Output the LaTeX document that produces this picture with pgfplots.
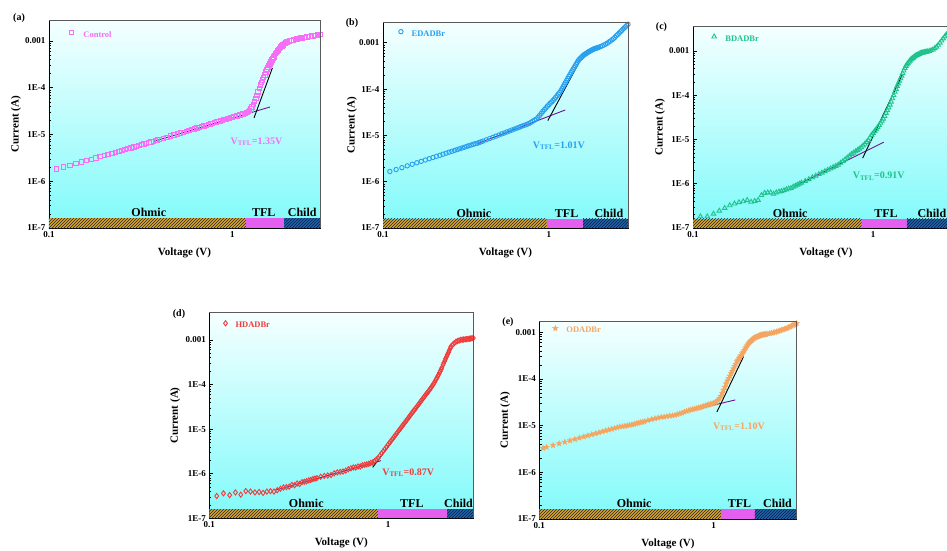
\documentclass[border=0pt]{standalone}
\usepackage{fontspec}
\setmainfont{Liberation Serif}
\usepackage{pgfplots}
\pgfplotsset{compat=1.18}
\usepackage{pgfplotstable}
\usetikzlibrary{patterns,plotmarks}

\definecolor{cA}{RGB}{245,110,245}
\definecolor{cB}{RGB}{40,160,240}
\definecolor{cC}{RGB}{30,195,140}
\definecolor{cD}{RGB}{240,60,60}
\definecolor{cE}{RGB}{245,165,95}
\definecolor{fitp}{RGB}{110,20,150}
\definecolor{ohm}{RGB}{215,165,50}
\definecolor{tfl}{RGB}{228,95,240}
\definecolor{chd}{RGB}{30,100,170}
\definecolor{chdl}{RGB}{10,30,70}
\definecolor{bgtop}{RGB}{245,255,255}
\definecolor{bgbot}{RGB}{128,250,250}
\definecolor{framegray}{RGB}{90,90,90}

\pgfdeclareplotmark{fstar}{%
 \pgfpathmoveto{\pgfpointpolar{90}{\pgfplotmarksize}}%
 \pgfpathlineto{\pgfpointpolar{126}{0.42\pgfplotmarksize}}%
 \pgfpathlineto{\pgfpointpolar{162}{\pgfplotmarksize}}%
 \pgfpathlineto{\pgfpointpolar{198}{0.42\pgfplotmarksize}}%
 \pgfpathlineto{\pgfpointpolar{234}{\pgfplotmarksize}}%
 \pgfpathlineto{\pgfpointpolar{270}{0.42\pgfplotmarksize}}%
 \pgfpathlineto{\pgfpointpolar{306}{\pgfplotmarksize}}%
 \pgfpathlineto{\pgfpointpolar{342}{0.42\pgfplotmarksize}}%
 \pgfpathlineto{\pgfpointpolar{18}{\pgfplotmarksize}}%
 \pgfpathlineto{\pgfpointpolar{54}{0.42\pgfplotmarksize}}%
 \pgfpathclose\pgfusepathqfillstroke}

\pgfplotstableread{
V I
0.11 1.82e-6
0.12 2.01e-6
0.13 2.20e-6
0.14 2.39e-6
0.15 2.58e-6
0.16 2.77e-6
0.17 2.96e-6
0.18 3.16e-6
0.19 3.37e-6
0.20 3.56e-6
0.21 3.77e-6
0.22 3.96e-6
0.23 4.17e-6
0.24 4.38e-6
0.25 4.58e-6
0.26 4.79e-6
0.27 4.99e-6
0.28 5.20e-6
0.29 5.41e-6
0.30 5.62e-6
0.31 5.82e-6
0.32 6.04e-6
0.33 6.27e-6
0.34 6.46e-6
0.35 6.68e-6
0.36 6.89e-6
0.37 7.11e-6
0.38 7.35e-6
0.39 7.57e-6
0.40 7.80e-6
0.42 8.28e-6
0.44 8.75e-6
0.46 9.25e-6
0.48 9.70e-6
0.50 1.02e-5
0.52 1.07e-5
0.54 1.12e-5
0.56 1.17e-5
0.58 1.22e-5
0.60 1.27e-5
0.62 1.32e-5
0.64 1.37e-5
0.66 1.43e-5
0.68 1.48e-5
0.70 1.53e-5
0.72 1.58e-5
0.74 1.63e-5
0.76 1.69e-5
0.78 1.74e-5
0.80 1.79e-5
0.82 1.85e-5
0.84 1.90e-5
0.86 1.95e-5
0.88 2.01e-5
0.90 2.07e-5
0.92 2.12e-5
0.94 2.18e-5
0.96 2.23e-5
0.98 2.29e-5
1.00 2.34e-5
1.02 2.40e-5
1.04 2.45e-5
1.06 2.51e-5
1.08 2.57e-5
1.10 2.62e-5
1.12 2.69e-5
1.14 2.74e-5
1.16 2.80e-5
1.18 2.86e-5
1.20 2.92e-5
1.22 3.07e-5
1.24 3.25e-5
1.26 3.50e-5
1.28 3.91e-5
1.30 4.36e-5
1.32 5.04e-5
1.34 5.83e-5
1.36 6.92e-5
1.38 8.15e-5
1.40 9.64e-5
1.42 1.14e-4
1.44 1.30e-4
1.46 1.47e-4
1.48 1.66e-4
1.50 1.89e-4
1.52 2.16e-4
1.54 2.45e-4
1.56 2.69e-4
1.58 2.98e-4
1.60 3.24e-4
1.62 3.58e-4
1.64 3.90e-4
1.66 4.24e-4
1.68 4.60e-4
1.70 4.94e-4
1.72 5.36e-4
1.74 5.74e-4
1.76 6.15e-4
1.78 6.49e-4
1.80 6.89e-4
1.82 7.21e-4
1.84 7.53e-4
1.86 7.88e-4
1.88 8.18e-4
1.90 8.55e-4
1.92 8.79e-4
1.94 9.04e-4
1.96 9.21e-4
1.98 9.46e-4
2.00 9.64e-4
2.05 1.01e-3
2.10 1.04e-3
2.15 1.06e-3
2.20 1.09e-3
2.25 1.11e-3
2.30 1.13e-3
2.35 1.15e-3
2.40 1.16e-3
2.45 1.18e-3
2.50 1.20e-3
2.55 1.22e-3
2.60 1.24e-3
2.65 1.25e-3
2.70 1.27e-3
2.75 1.29e-3
2.80 1.31e-3
2.85 1.33e-3
2.90 1.34e-3
2.95 1.36e-3
3.00 1.38e-3
}\tA

\pgfplotstableread{
V I
0.11 1.66e-6
0.12 1.83e-6
0.13 2.01e-6
0.14 2.20e-6
0.15 2.38e-6
0.16 2.57e-6
0.17 2.75e-6
0.18 2.94e-6
0.19 3.14e-6
0.20 3.33e-6
0.21 3.53e-6
0.22 3.72e-6
0.23 3.93e-6
0.24 4.13e-6
0.25 4.34e-6
0.26 4.53e-6
0.27 4.73e-6
0.28 4.94e-6
0.29 5.14e-6
0.30 5.36e-6
0.31 5.56e-6
0.32 5.78e-6
0.33 6.00e-6
0.34 6.19e-6
0.35 6.41e-6
0.36 6.62e-6
0.37 6.75e-6
0.38 7.01e-6
0.39 7.26e-6
0.40 7.52e-6
0.42 8.02e-6
0.44 8.55e-6
0.46 9.10e-6
0.48 9.64e-6
0.50 1.02e-5
0.52 1.08e-5
0.54 1.13e-5
0.56 1.19e-5
0.58 1.25e-5
0.60 1.31e-5
0.62 1.37e-5
0.64 1.43e-5
0.66 1.49e-5
0.68 1.56e-5
0.70 1.62e-5
0.72 1.68e-5
0.74 1.74e-5
0.76 1.81e-5
0.78 1.92e-5
0.80 2.03e-5
0.82 2.14e-5
0.84 2.25e-5
0.86 2.45e-5
0.88 2.70e-5
0.90 2.99e-5
0.92 3.30e-5
0.94 3.60e-5
0.96 3.93e-5
0.98 4.28e-5
1.00 4.61e-5
1.02 4.97e-5
1.04 5.31e-5
1.06 5.68e-5
1.08 6.12e-5
1.10 6.64e-5
1.12 7.19e-5
1.14 7.80e-5
1.16 8.36e-5
1.18 9.18e-5
1.20 1.02e-4
1.22 1.13e-4
1.24 1.25e-4
1.26 1.39e-4
1.28 1.54e-4
1.30 1.70e-4
1.32 1.88e-4
1.34 2.05e-4
1.36 2.26e-4
1.38 2.47e-4
1.40 2.69e-4
1.42 2.92e-4
1.44 3.17e-4
1.46 3.44e-4
1.48 3.74e-4
1.50 4.06e-4
1.52 4.34e-4
1.54 4.55e-4
1.56 4.73e-4
1.58 4.97e-4
1.60 5.16e-4
1.62 5.42e-4
1.64 5.57e-4
1.66 5.73e-4
1.68 5.89e-4
1.70 6.05e-4
1.72 6.25e-4
1.74 6.43e-4
1.76 6.58e-4
1.78 6.68e-4
1.80 6.84e-4
1.82 7.00e-4
1.84 7.15e-4
1.86 7.31e-4
1.88 7.40e-4
1.90 7.50e-4
1.92 7.59e-4
1.94 7.69e-4
1.96 7.78e-4
1.98 7.91e-4
2.00 8.00e-4
2.05 8.28e-4
2.10 8.61e-4
2.15 8.97e-4
2.20 9.33e-4
2.25 9.75e-4
2.30 1.04e-3
2.35 1.09e-3
2.40 1.16e-3
2.45 1.22e-3
2.50 1.31e-3
2.55 1.42e-3
2.60 1.51e-3
2.65 1.61e-3
2.70 1.73e-3
2.75 1.84e-3
2.80 1.97e-3
2.85 2.10e-3
2.90 2.22e-3
2.95 2.37e-3
3.00 2.51e-3
}\tB

\pgfplotstableread{
V I
0.11 1.82e-7
0.12 1.82e-7
0.13 2.09e-7
0.14 2.45e-7
0.15 2.82e-7
0.16 3.24e-7
0.17 3.55e-7
0.18 3.80e-7
0.19 3.98e-7
0.20 4.27e-7
0.21 3.89e-7
0.22 4.07e-7
0.23 4.27e-7
0.24 5.50e-7
0.25 6.17e-7
0.26 6.31e-7
0.27 6.31e-7
0.28 5.89e-7
0.29 6.31e-7
0.30 6.61e-7
0.31 6.76e-7
0.32 7.08e-7
0.33 7.41e-7
0.34 7.76e-7
0.35 7.94e-7
0.36 8.51e-7
0.37 8.91e-7
0.38 9.46e-7
0.39 9.95e-7
0.40 1.05e-6
0.42 1.15e-6
0.44 1.26e-6
0.46 1.39e-6
0.48 1.51e-6
0.50 1.64e-6
0.52 1.77e-6
0.54 1.91e-6
0.56 2.05e-6
0.58 2.20e-6
0.60 2.36e-6
0.62 2.51e-6
0.64 2.68e-6
0.66 2.95e-6
0.68 3.24e-6
0.70 3.55e-6
0.72 3.89e-6
0.74 4.27e-6
0.76 4.68e-6
0.78 5.01e-6
0.80 5.37e-6
0.82 5.75e-6
0.84 6.17e-6
0.86 6.61e-6
0.88 7.24e-6
0.90 7.94e-6
0.92 8.71e-6
0.94 9.55e-6
0.96 1.10e-5
0.98 1.26e-5
1.00 1.39e-5
1.02 1.55e-5
1.04 1.70e-5
1.06 1.88e-5
1.08 2.10e-5
1.10 2.36e-5
1.12 2.63e-5
1.14 2.94e-5
1.16 3.36e-5
1.18 3.95e-5
1.20 4.56e-5
1.22 5.27e-5
1.24 6.08e-5
1.26 7.11e-5
1.28 8.45e-5
1.30 1.00e-4
1.32 1.19e-4
1.34 1.38e-4
1.36 1.61e-4
1.38 1.84e-4
1.40 2.10e-4
1.42 2.40e-4
1.44 2.74e-4
1.46 3.13e-4
1.48 3.58e-4
1.50 4.08e-4
1.52 4.58e-4
1.54 4.93e-4
1.56 5.25e-4
1.58 5.65e-4
1.60 6.01e-4
1.62 6.40e-4
1.64 6.64e-4
1.66 6.90e-4
1.68 7.16e-4
1.70 7.43e-4
1.72 7.76e-4
1.74 7.96e-4
1.76 8.15e-4
1.78 8.32e-4
1.80 8.53e-4
1.82 8.73e-4
1.84 8.93e-4
1.86 9.03e-4
1.88 9.12e-4
1.90 9.21e-4
1.92 9.29e-4
1.94 9.40e-4
1.96 9.47e-4
1.98 9.57e-4
2.00 9.66e-4
2.05 9.98e-4
2.10 1.03e-3
2.15 1.07e-3
2.20 1.15e-3
2.25 1.24e-3
2.30 1.37e-3
2.35 1.53e-3
2.40 1.71e-3
2.45 1.91e-3
2.50 2.11e-3
2.55 2.34e-3
2.60 2.55e-3
2.65 2.69e-3
2.70 2.84e-3
2.75 3.01e-3
2.80 3.18e-3
2.85 3.36e-3
2.90 3.52e-3
2.95 3.72e-3
3.00 3.91e-3
}\tC

\pgfplotstableread{
V I
0.11 3.16e-7
0.12 3.63e-7
0.13 3.31e-7
0.14 3.80e-7
0.15 3.39e-7
0.16 4.07e-7
0.17 3.98e-7
0.18 3.80e-7
0.19 3.89e-7
0.20 3.72e-7
0.21 3.98e-7
0.22 4.07e-7
0.23 3.98e-7
0.24 4.27e-7
0.25 4.59e-7
0.26 4.90e-7
0.27 5.00e-7
0.28 5.13e-7
0.29 5.62e-7
0.30 5.50e-7
0.31 6.03e-7
0.32 5.89e-7
0.33 6.46e-7
0.34 6.61e-7
0.35 6.76e-7
0.36 7.08e-7
0.37 7.24e-7
0.38 7.59e-7
0.39 7.76e-7
0.40 7.94e-7
0.42 8.51e-7
0.44 8.91e-7
0.46 9.12e-7
0.48 9.33e-7
0.50 1.02e-6
0.52 1.07e-6
0.54 1.10e-6
0.56 1.12e-6
0.58 1.17e-6
0.60 1.26e-6
0.62 1.32e-6
0.64 1.38e-6
0.66 1.38e-6
0.68 1.45e-6
0.70 1.45e-6
0.72 1.55e-6
0.74 1.58e-6
0.76 1.62e-6
0.78 1.66e-6
0.80 1.74e-6
0.82 1.78e-6
0.84 1.91e-6
0.86 2.09e-6
0.88 2.24e-6
0.90 2.54e-6
0.92 2.86e-6
0.94 3.20e-6
0.96 3.56e-6
0.98 3.98e-6
1.00 4.45e-6
1.02 4.97e-6
1.04 5.47e-6
1.06 6.04e-6
1.08 6.65e-6
1.10 7.34e-6
1.12 8.09e-6
1.14 8.93e-6
1.16 9.73e-6
1.18 1.07e-5
1.20 1.17e-5
1.22 1.27e-5
1.24 1.39e-5
1.26 1.51e-5
1.28 1.64e-5
1.30 1.79e-5
1.32 1.95e-5
1.34 2.10e-5
1.36 2.29e-5
1.38 2.47e-5
1.40 2.65e-5
1.42 2.86e-5
1.44 3.08e-5
1.46 3.31e-5
1.48 3.56e-5
1.50 3.83e-5
1.52 4.12e-5
1.54 4.44e-5
1.56 4.72e-5
1.58 5.08e-5
1.60 5.40e-5
1.62 5.81e-5
1.64 6.18e-5
1.66 6.56e-5
1.68 6.98e-5
1.70 7.41e-5
1.72 7.98e-5
1.74 8.43e-5
1.76 9.10e-5
1.78 9.66e-5
1.80 1.04e-4
1.82 1.12e-4
1.84 1.21e-4
1.86 1.32e-4
1.88 1.42e-4
1.90 1.55e-4
1.92 1.67e-4
1.94 1.83e-4
1.96 1.97e-4
1.98 2.17e-4
2.00 2.37e-4
2.03 2.75e-4
2.05 3.03e-4
2.08 3.40e-4
2.10 3.79e-4
2.13 4.25e-4
2.15 4.71e-4
2.18 5.25e-4
2.20 5.83e-4
2.23 6.50e-4
2.25 7.14e-4
2.30 7.82e-4
2.35 8.47e-4
2.40 9.14e-4
2.45 9.42e-4
2.50 9.70e-4
2.55 1.00e-3
2.60 1.01e-3
2.65 1.02e-3
2.70 1.03e-3
2.75 1.04e-3
2.80 1.05e-3
2.85 1.06e-3
2.90 1.07e-3
2.95 1.09e-3
3.00 1.10e-3
}\tD

\pgfplotstableread{
V I
0.105 3.30e-6
0.11 3.46e-6
0.12 3.78e-6
0.13 4.12e-6
0.14 4.45e-6
0.15 4.78e-6
0.16 5.11e-6
0.17 5.45e-6
0.18 5.78e-6
0.19 6.11e-6
0.20 6.44e-6
0.21 6.78e-6
0.22 7.11e-6
0.23 7.46e-6
0.24 7.80e-6
0.25 8.13e-6
0.26 8.47e-6
0.27 8.81e-6
0.28 9.14e-6
0.29 9.48e-6
0.30 9.60e-6
0.31 9.85e-6
0.32 1.00e-5
0.33 1.03e-5
0.34 1.05e-5
0.35 1.08e-5
0.36 1.11e-5
0.37 1.14e-5
0.38 1.17e-5
0.39 1.19e-5
0.40 1.22e-5
0.42 1.30e-5
0.44 1.36e-5
0.46 1.42e-5
0.48 1.47e-5
0.50 1.52e-5
0.52 1.54e-5
0.54 1.58e-5
0.56 1.62e-5
0.58 1.64e-5
0.60 1.68e-5
0.62 1.74e-5
0.64 1.80e-5
0.66 1.88e-5
0.68 1.97e-5
0.70 2.04e-5
0.72 2.11e-5
0.74 2.19e-5
0.76 2.24e-5
0.78 2.29e-5
0.80 2.34e-5
0.82 2.40e-5
0.84 2.45e-5
0.86 2.54e-5
0.88 2.60e-5
0.90 2.69e-5
0.92 2.75e-5
0.94 2.82e-5
0.96 2.88e-5
0.98 2.95e-5
1.00 3.02e-5
1.02 3.09e-5
1.04 3.24e-5
1.06 3.49e-5
1.08 3.83e-5
1.10 4.29e-5
1.12 4.99e-5
1.14 5.81e-5
1.16 6.71e-5
1.18 7.91e-5
1.20 9.08e-5
1.22 1.03e-4
1.24 1.16e-4
1.26 1.31e-4
1.28 1.47e-4
1.30 1.66e-4
1.32 1.88e-4
1.34 2.08e-4
1.36 2.35e-4
1.38 2.54e-4
1.40 2.75e-4
1.42 2.97e-4
1.44 3.21e-4
1.46 3.48e-4
1.48 3.76e-4
1.50 4.08e-4
1.52 4.44e-4
1.54 4.83e-4
1.56 5.19e-4
1.58 5.65e-4
1.60 5.96e-4
1.62 6.27e-4
1.64 6.55e-4
1.66 6.82e-4
1.68 7.11e-4
1.70 7.43e-4
1.72 7.60e-4
1.74 7.76e-4
1.76 7.91e-4
1.78 8.04e-4
1.80 8.20e-4
1.82 8.36e-4
1.84 8.53e-4
1.86 8.65e-4
1.88 8.71e-4
1.90 8.79e-4
1.92 8.85e-4
1.94 8.91e-4
1.96 8.97e-4
1.98 9.06e-4
2.00 9.12e-4
2.05 9.29e-4
2.10 9.44e-4
2.15 9.62e-4
2.20 9.79e-4
2.25 1.00e-3
2.30 1.03e-3
2.35 1.05e-3
2.40 1.08e-3
2.45 1.11e-3
2.50 1.14e-3
2.55 1.17e-3
2.60 1.20e-3
2.65 1.23e-3
2.70 1.27e-3
2.75 1.32e-3
2.80 1.36e-3
2.85 1.41e-3
2.90 1.45e-3
2.95 1.50e-3
3.00 1.55e-3
}\tE

\tikzset{
  bandlbl/.style={anchor=base, yshift=1.5pt, inner sep=0pt, font=\fontsize{12}{13}\selectfont\bfseries},
  vtfl/.style={anchor=west, inner sep=0pt, font=\fontsize{10}{11}\selectfont\bfseries},
  plbl/.style={font=\fontsize{10}{11}\selectfont\bfseries},
  gframe/.style={framegray, line width=0.9pt},
}

\begin{document}
\begin{tikzpicture}

% ---------------- (a) ----------------
\begin{axis}[scale only axis, anchor=south west, at={(49pt,322pt)}, width=271pt, height=208pt,
  xmode=log, ymode=log, xmin=0.1, xmax=3, ymin=1e-7, ymax=2.81e-3,
  axis line style={line width=0.8pt, black},
  xtick={0.1,1}, xticklabels={\textbf{0.1},\textbf{1}},
  ytick={1e-7,1e-6,1e-5,1e-4,1e-3},
  yticklabels={\textbf{1E-7},\textbf{1E-6},\textbf{1E-5},\textbf{1E-4},\textbf{0.001}},
  ticklabel style={font=\fontsize{9}{10}\selectfont\bfseries},
  tick pos=left, major tick length=4pt, minor tick length=2.2pt,
  tick style={black, line width=0.6pt},
  axis background/.style={top color=bgtop, bottom color=bgbot},
  xlabel={Voltage (V)}, ylabel={Current (A)},
  label style={font=\fontsize{11}{12}\selectfont\bfseries},
  xlabel style={at={(axis description cs:0.5,0)}, anchor=center, yshift=-25pt},
  ylabel style={at={(axis description cs:0,0.5)}, anchor=center, yshift=33pt},
  legend style={at={(axis description cs:0,1)}, anchor=north west, draw=none, fill=none, inner sep=0pt,
    font=\fontsize{8.5}{9}\selectfont\bfseries, xshift=19.8pt, yshift=-9pt, text=cA,
    /tikz/every odd column/.append style={column sep=8pt}},
  legend image post style={yshift=2.6pt}]
\addplot[forget plot, draw=none, fill=ohm] coordinates {(0.1,1e-7) (1.19,1e-7) (1.19,1.6e-7) (0.1,1.6e-7)};
\addplot[forget plot, draw=none, pattern=north east lines, pattern color=black!85] coordinates {(0.1,1e-7) (1.19,1e-7) (1.19,1.6e-7) (0.1,1.6e-7)};
\addplot[forget plot, draw=none, fill=tfl] coordinates {(1.19,1e-7) (1.92,1e-7) (1.92,1.6e-7) (1.19,1.6e-7)};
\addplot[forget plot, draw=none, fill=chd] coordinates {(1.92,1e-7) (3,1e-7) (3,1.6e-7) (1.92,1.6e-7)};
\addplot[forget plot, draw=none, pattern=north east lines, pattern color=chdl] coordinates {(1.92,1e-7) (3,1e-7) (3,1.6e-7) (1.92,1.6e-7)};
\addplot[only marks, mark=square, mark size=2.2pt, color=cA, mark options={line width=0.9pt}] table {\tA};
\addlegendentry{Control}
\addplot[forget plot, color=fitp, line width=0.9pt] coordinates {(0.372,7.14e-6) (1.60,3.87e-5)};
\addplot[forget plot, color=black, line width=0.9pt] coordinates {(1.31,2.25e-5) (1.65,2.64e-4)};
\node[bandlbl] at (axis cs:0.35,1.6e-7) {Ohmic};
\node[bandlbl] at (axis cs:1.48,1.6e-7) {TFL};
\node[bandlbl] at (axis cs:2.4,1.6e-7) {Child};
\node[vtfl, text=cA] at (axis cs:0.975,7e-6) {V\textsubscript{TFL}=1.35V};
\end{axis}
\draw[gframe] (49pt,530pt) -- (320pt,530pt) -- (320pt,322pt);
\node[plbl] at (19pt,531.7pt) {(a)};

% ---------------- (b) ----------------
\begin{axis}[scale only axis, anchor=south west, at={(383pt,322pt)}, width=245pt, height=206pt,
  xmode=log, ymode=log, xmin=0.1, xmax=3, ymin=1e-7, ymax=2.81e-3,
  axis line style={line width=0.8pt, black},
  xtick={0.1,1}, xticklabels={\textbf{0.1},\textbf{1}},
  ytick={1e-7,1e-6,1e-5,1e-4,1e-3},
  yticklabels={\textbf{1E-7},\textbf{1E-6},\textbf{1E-5},\textbf{1E-4},\textbf{0.001}},
  ticklabel style={font=\fontsize{9}{10}\selectfont\bfseries},
  tick pos=left, major tick length=4pt, minor tick length=2.2pt,
  tick style={black, line width=0.6pt},
  axis background/.style={top color=bgtop, bottom color=bgbot},
  xlabel={Voltage (V)}, ylabel={Current (A)},
  label style={font=\fontsize{11}{12}\selectfont\bfseries},
  xlabel style={at={(axis description cs:0.5,0)}, anchor=center, yshift=-25pt},
  ylabel style={at={(axis description cs:0,0.5)}, anchor=center, yshift=31pt},
  legend style={at={(axis description cs:0,1)}, anchor=north west, draw=none, fill=none, inner sep=0pt,
    font=\fontsize{8.5}{9}\selectfont\bfseries, xshift=15.5pt, yshift=-6.5pt, text=cB,
    /tikz/every odd column/.append style={column sep=6.5pt}},
  legend image post style={yshift=2.6pt}]
\addplot[forget plot, draw=none, fill=ohm] coordinates {(0.1,1e-7) (0.97,1e-7) (0.97,1.6e-7) (0.1,1.6e-7)};
\addplot[forget plot, draw=none, pattern=north east lines, pattern color=black!85] coordinates {(0.1,1e-7) (0.97,1e-7) (0.97,1.6e-7) (0.1,1.6e-7)};
\addplot[forget plot, draw=none, fill=tfl] coordinates {(0.97,1e-7) (1.61,1e-7) (1.61,1.6e-7) (0.97,1.6e-7)};
\addplot[forget plot, draw=none, fill=chd] coordinates {(1.61,1e-7) (3,1e-7) (3,1.6e-7) (1.61,1.6e-7)};
\addplot[forget plot, draw=none, pattern=north east lines, pattern color=chdl] coordinates {(1.61,1e-7) (3,1e-7) (3,1.6e-7) (1.61,1.6e-7)};
\addplot[only marks, mark=o, mark size=2.2pt, color=cB, mark options={line width=0.9pt}] table {\tB};
\addlegendentry{EDADBr}
\addplot[forget plot, color=fitp, line width=0.9pt] coordinates {(0.367,6.56e-6) (1.256,3.54e-5)};
\addplot[forget plot, color=black, line width=0.9pt] coordinates {(0.986,2.09e-5) (1.51,3.59e-4)};
\node[bandlbl] at (axis cs:0.353,1.6e-7) {Ohmic};
\node[bandlbl] at (axis cs:1.28,1.6e-7) {TFL};
\node[bandlbl] at (axis cs:2.3,1.6e-7) {Child};
\node[vtfl, text=cB] at (axis cs:0.80,6.0e-6) {V\textsubscript{TFL}=1.01V};
\end{axis}
\draw[gframe] (383pt,528pt) -- (628pt,528pt) -- (628pt,322pt);
\node[plbl] at (352pt,526.7pt) {(b)};

% ---------------- (c) ----------------
\begin{axis}[scale only axis, anchor=south west, at={(693pt,322pt)}, width=266pt, height=202pt,
  xmode=log, ymode=log, xmin=0.1, xmax=3, ymin=1e-7, ymax=3.67e-3,
  axis line style={line width=0.8pt, black},
  xtick={0.1,1}, xticklabels={\textbf{0.1},\textbf{1}},
  ytick={1e-7,1e-6,1e-5,1e-4,1e-3},
  yticklabels={\textbf{1E-7},\textbf{1E-6},\textbf{1E-5},\textbf{1E-4},\textbf{0.001}},
  ticklabel style={font=\fontsize{9}{10}\selectfont\bfseries},
  tick pos=left, major tick length=4pt, minor tick length=2.2pt,
  tick style={black, line width=0.6pt},
  axis background/.style={top color=bgtop, bottom color=bgbot},
  xlabel={Voltage (V)}, ylabel={Current (A)},
  label style={font=\fontsize{11}{12}\selectfont\bfseries},
  xlabel style={at={(axis description cs:0.5,0)}, anchor=center, yshift=-25pt},
  ylabel style={at={(axis description cs:0,0.5)}, anchor=center, yshift=33pt},
  legend style={at={(axis description cs:0,1)}, anchor=north west, draw=none, fill=none, inner sep=0pt,
    font=\fontsize{8.5}{9}\selectfont\bfseries, xshift=18.7pt, yshift=-7.5pt, text=cC,
    /tikz/every odd column/.append style={column sep=7pt}},
  legend image post style={yshift=2.6pt}]
\addplot[forget plot, draw=none, fill=ohm] coordinates {(0.1,1e-7) (0.865,1e-7) (0.865,1.6e-7) (0.1,1.6e-7)};
\addplot[forget plot, draw=none, pattern=north east lines, pattern color=black!85] coordinates {(0.1,1e-7) (0.865,1e-7) (0.865,1.6e-7) (0.1,1.6e-7)};
\addplot[forget plot, draw=none, fill=tfl] coordinates {(0.865,1e-7) (1.54,1e-7) (1.54,1.6e-7) (0.865,1.6e-7)};
\addplot[forget plot, draw=none, fill=chd] coordinates {(1.54,1e-7) (3,1e-7) (3,1.6e-7) (1.54,1.6e-7)};
\addplot[forget plot, draw=none, pattern=north east lines, pattern color=chdl] coordinates {(1.54,1e-7) (3,1e-7) (3,1.6e-7) (1.54,1.6e-7)};
\addplot[only marks, mark=triangle, mark size=2.6pt, color=cC, mark options={line width=0.9pt}] table {\tC};
\addlegendentry{BDADBr}
\addplot[forget plot, color=fitp, line width=0.9pt] coordinates {(0.369,8.9e-7) (1.147,8.7e-6)};
\addplot[forget plot, color=black, line width=0.9pt] coordinates {(0.875,3.79e-6) (1.45,2.88e-4)};
\node[bandlbl] at (axis cs:0.346,1.6e-7) {Ohmic};
\node[bandlbl] at (axis cs:1.18,1.6e-7) {TFL};
\node[bandlbl] at (axis cs:2.12,1.6e-7) {Child};
\node[vtfl, text=cC] at (axis cs:0.77,1.5e-6) {V\textsubscript{TFL}=0.91V};
\end{axis}
\draw[gframe] (693pt,524pt) -- (959pt,524pt) -- (959pt,322pt);
\node[plbl] at (661.5pt,523.3pt) {(c)};

% ---------------- (d) ----------------
\begin{axis}[scale only axis, anchor=south west, at={(209.3pt,31.7pt)}, width=264pt, height=205.6pt,
  xmode=log, ymode=log, xmin=0.1, xmax=3, ymin=1e-7, ymax=4.07e-3,
  axis line style={line width=0.8pt, black},
  xtick={0.1,1}, xticklabels={\textbf{0.1},\textbf{1}},
  ytick={1e-7,1e-6,1e-5,1e-4,1e-3},
  yticklabels={\textbf{1E-7},\textbf{1E-6},\textbf{1E-5},\textbf{1E-4},\textbf{0.001}},
  ticklabel style={font=\fontsize{9}{10}\selectfont\bfseries},
  tick pos=left, major tick length=4pt, minor tick length=2.2pt,
  tick style={black, line width=0.6pt},
  axis background/.style={top color=bgtop, bottom color=bgbot},
  xlabel={Voltage (V)}, ylabel={Current (A)},
  label style={font=\fontsize{11}{12}\selectfont\bfseries},
  xlabel style={at={(axis description cs:0.5,0)}, anchor=center, yshift=-25pt},
  ylabel style={at={(axis description cs:0,0.5)}, anchor=center, yshift=34pt},
  legend style={at={(axis description cs:0,1)}, anchor=north west, draw=none, fill=none, inner sep=0pt,
    font=\fontsize{8.5}{9}\selectfont\bfseries, xshift=14.1pt, yshift=-7.4pt, text=cD,
    /tikz/every odd column/.append style={column sep=6pt}},
  legend image post style={yshift=2.6pt}]
\addplot[forget plot, draw=none, fill=ohm] coordinates {(0.1,1e-7) (0.884,1e-7) (0.884,1.6e-7) (0.1,1.6e-7)};
\addplot[forget plot, draw=none, pattern=north east lines, pattern color=black!85] coordinates {(0.1,1e-7) (0.884,1e-7) (0.884,1.6e-7) (0.1,1.6e-7)};
\addplot[forget plot, draw=none, fill=tfl] coordinates {(0.884,1e-7) (2.15,1e-7) (2.15,1.6e-7) (0.884,1.6e-7)};
\addplot[forget plot, draw=none, fill=chd] coordinates {(2.15,1e-7) (3,1e-7) (3,1.6e-7) (2.15,1.6e-7)};
\addplot[forget plot, draw=none, pattern=north east lines, pattern color=chdl] coordinates {(2.15,1e-7) (3,1e-7) (3,1.6e-7) (2.15,1.6e-7)};
\addplot[only marks, mark=diamond, mark size=2.6pt, color=cD, mark options={line width=0.9pt}] table {\tD};
\addlegendentry{HDADBr}
\addplot[forget plot, color=fitp, line width=0.9pt] coordinates {(0.237,4.33e-7) (0.914,1.96e-6)};
\addplot[forget plot, color=black, line width=0.9pt] coordinates {(0.821,1.39e-6) (1.714,6.93e-5)};
\node[bandlbl] at (axis cs:0.349,1.6e-7) {Ohmic};
\node[bandlbl] at (axis cs:1.36,1.6e-7) {TFL};
\node[bandlbl] at (axis cs:2.48,1.6e-7) {Child};
\node[vtfl, text=cD] at (axis cs:0.927,1.05e-6) {V\textsubscript{TFL}=0.87V};
\end{axis}
\draw[gframe] (209.3pt,237.3pt) -- (473.3pt,237.3pt) -- (473.3pt,31.7pt);
\node[plbl] at (179pt,236pt) {(d)};

% ---------------- (e) ----------------
\begin{axis}[scale only axis, anchor=south west, at={(539.3pt,31pt)}, width=257.4pt, height=198pt,
  xmode=log, ymode=log, xmin=0.1, xmax=3, ymin=1e-7, ymax=1.74e-3,
  axis line style={line width=0.8pt, black},
  xtick={0.1,1}, xticklabels={\textbf{0.1},\textbf{1}},
  ytick={1e-7,1e-6,1e-5,1e-4,1e-3},
  yticklabels={\textbf{1E-7},\textbf{1E-6},\textbf{1E-5},\textbf{1E-4},\textbf{0.001}},
  ticklabel style={font=\fontsize{9}{10}\selectfont\bfseries},
  tick pos=left, major tick length=4pt, minor tick length=2.2pt,
  tick style={black, line width=0.6pt},
  axis background/.style={top color=bgtop, bottom color=bgbot},
  xlabel={Voltage (V)}, ylabel={Current (A)},
  label style={font=\fontsize{11}{12}\selectfont\bfseries},
  xlabel style={at={(axis description cs:0.5,0)}, anchor=center, yshift=-25pt},
  ylabel style={at={(axis description cs:0,0.5)}, anchor=center, yshift=34pt},
  legend style={at={(axis description cs:0,1)}, anchor=north west, draw=none, fill=none, inner sep=0pt,
    font=\fontsize{8.5}{9}\selectfont\bfseries, xshift=13pt, yshift=-4.1pt, text=cE,
    /tikz/every odd column/.append style={column sep=6.2pt}},
  legend image post style={yshift=2.6pt}]
\addplot[forget plot, draw=none, fill=ohm] coordinates {(0.1,1e-7) (1.107,1e-7) (1.107,1.6e-7) (0.1,1.6e-7)};
\addplot[forget plot, draw=none, pattern=north east lines, pattern color=black!85] coordinates {(0.1,1e-7) (1.107,1e-7) (1.107,1.6e-7) (0.1,1.6e-7)};
\addplot[forget plot, draw=none, fill=tfl] coordinates {(1.107,1e-7) (1.72,1e-7) (1.72,1.6e-7) (1.107,1.6e-7)};
\addplot[forget plot, draw=none, fill=chd] coordinates {(1.72,1e-7) (3,1e-7) (3,1.6e-7) (1.72,1.6e-7)};
\addplot[forget plot, draw=none, pattern=north east lines, pattern color=chdl] coordinates {(1.72,1e-7) (3,1e-7) (3,1.6e-7) (1.72,1.6e-7)};
\addplot[only marks, mark=fstar, mark size=3pt, color=cE, mark options={line width=0.3pt, fill=cE}] table {\tE};
\addlegendentry{ODADBr}
\addplot[forget plot, color=fitp, line width=0.9pt] coordinates {(0.291,9.2e-6) (1.332,3.55e-5)};
\addplot[forget plot, color=black, line width=0.9pt] coordinates {(1.045,1.96e-5) (1.486,3.01e-4)};
\node[bandlbl] at (axis cs:0.35,1.6e-7) {Ohmic};
\node[bandlbl] at (axis cs:1.41,1.6e-7) {TFL};
\node[bandlbl] at (axis cs:2.33,1.6e-7) {Child};
\node[vtfl, text=cE] at (axis cs:0.99,9.5e-6) {V\textsubscript{TFL}=1.10V};
\end{axis}
\draw[gframe] (539.3pt,229pt) -- (796.7pt,229pt) -- (796.7pt,31pt);
\node[plbl] at (508pt,228.3pt) {(e)};

\pgfresetboundingbox
\useasboundingbox (0pt,0pt) rectangle (947pt,550pt);
\end{tikzpicture}
\end{document}
